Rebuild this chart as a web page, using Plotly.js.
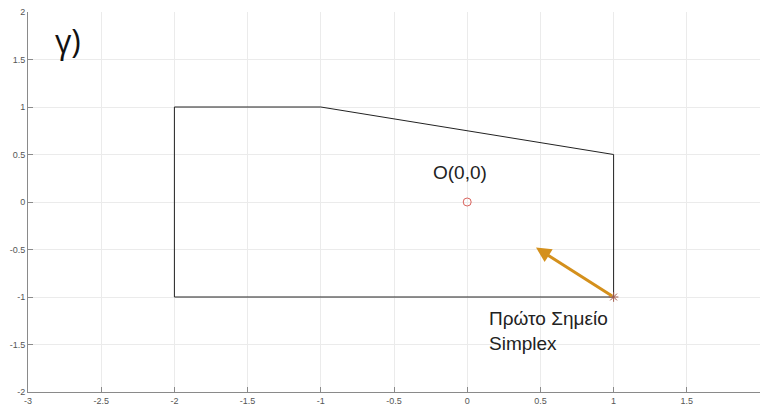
<!DOCTYPE html>
<html>
<head>
<meta charset="utf-8">
<script src="https://cdn.plot.ly/plotly-3.0.1.min.js"></script>
<style>html,body{margin:0;padding:0;background:#fff;}#chart{width:760px;height:407px;}</style>
</head>
<body>
<div id="chart"></div>
<script>
// Feasible region boundary
const polyX = [-2, -2, -1, 1, 1, -2];
const polyY = [-1, 1, 1, 0.5, -1, -1];
// Origin point
const originX = [0];
const originY = [0];
// First simplex point
const startX = [1];
const startY = [-1];
// Arrow tip (direction of movement)
const arrowTipX = 0.47;
const arrowTipY = -0.48;
// Labels
const panelLabel = "γ)";
const originLabel = "O(0,0)";
const startLabel = "Πρώτο Σημείο<br>Simplex";
const originLabelPos = [-0.05, 0.31];
const startLabelPos = [0.135, -1.36];
const panelLabelPos = [-2.83, 1.7];
// Ticks
const xTicks = [-3, -2.5, -2, -1.5, -1, -0.5, 0, 0.5, 1, 1.5, 2];
const yTicks = [-2, -1.5, -1, -0.5, 0, 0.5, 1, 1.5, 2];

const traces = [
  {x: polyX, y: polyY, mode: 'lines', line: {color: '#222', width: 1}, hoverinfo: 'skip'},
  {x: originX, y: originY, mode: 'markers', marker: {symbol: 'circle-open', color: '#d9625c', size: 8, line: {width: 1}}},
  {x: startX, y: startY, mode: 'markers', marker: {symbol: 'asterisk-open', color: '#a05a4a', size: 8, line: {width: 1, color: '#a05a4a'}}}
];

const axisCommon = {
  showgrid: true, gridcolor: '#ebebeb', gridwidth: 1,
  zeroline: false, showline: true, linecolor: '#8a8a8a', linewidth: 1,
  ticks: 'inside', ticklen: 5, tickcolor: '#8a8a8a',
  tickfont: {family: 'Liberation Sans, Arial', size: 9, color: '#555'},
  mirror: false
};

const layout = {
  width: 760, height: 407,
  margin: {l: 28, r: 0, t: 12, b: 15},
  paper_bgcolor: '#fff', plot_bgcolor: '#fff',
  showlegend: false,
  xaxis: Object.assign({}, axisCommon, {range: [-3, 2], tickvals: xTicks, ticktext: xTicks.map(String)}),
  yaxis: Object.assign({}, axisCommon, {range: [-2, 2], tickvals: yTicks, ticktext: yTicks.map(String)}),
  annotations: [
    {x: arrowTipX, y: arrowTipY, ax: startX[0], ay: startY[0], axref: 'x', ayref: 'y', xref: 'x', yref: 'y',
     showarrow: true, arrowhead: 2, arrowsize: 1, arrowwidth: 3, arrowcolor: '#d4901c', text: ''},
    {x: originLabelPos[0], y: originLabelPos[1], xref: 'x', yref: 'y', text: originLabel, showarrow: false,
     font: {family: 'Liberation Sans, Arial', size: 19, color: '#222'}},
    {x: startLabelPos[0], y: startLabelPos[1], xref: 'x', yref: 'y', text: startLabel, showarrow: false, align: 'left',
     xanchor: 'left', font: {family: 'Liberation Sans, Arial', size: 19, color: '#222'}},
    {x: panelLabelPos[0], y: panelLabelPos[1], xref: 'x', yref: 'y', text: panelLabel, showarrow: false, xanchor: 'left',
     font: {family: 'Open Sans, Liberation Sans', size: 32, color: '#111'}}
  ]
};

Plotly.newPlot('chart', traces, layout, {staticPlot: true, displayModeBar: false});
</script>
</body>
</html>
